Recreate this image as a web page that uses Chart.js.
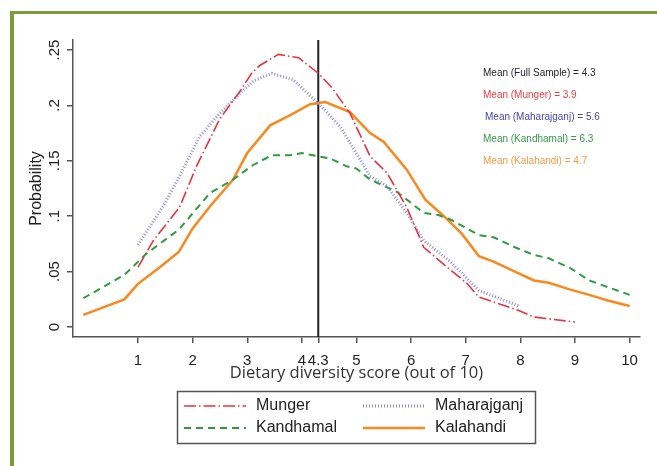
<!DOCTYPE html>
<html>
<head>
<meta charset="utf-8">
<script src="https://cdn.jsdelivr.net/npm/chart.js@4.4.0/dist/chart.umd.min.js"></script>
<style>
  html, body { margin: 0; padding: 0; background: #fff; }
  #wrap { position: relative; width: 657px; height: 466px; overflow: hidden; }
  #frame {
    position: absolute; left: 10px; top: 11px; width: 720px; height: 520px;
    border-left: 4px solid #7c9c3c; border-top: 3px solid #7c9c3c;
  }
  canvas { position: absolute; left: 0; top: 0; }
</style>
</head>
<body>
<div id="wrap">
  <div id="frame"></div>
  <canvas id="chart" width="657" height="466"></canvas>
</div>
<script>
// Dados (densidade por escore de diversidade alimentar)
const mungerX = [1.0, 1.28, 1.76, 2.07, 2.5, 2.87, 3.08, 3.23, 3.57, 3.94, 4.3, 4.55, 4.88, 5.25, 5.56, 5.92, 6.23, 6.66, 7.03, 7.24, 7.97, 8.25, 9.0];
const mungerY = [0.054, 0.078, 0.108, 0.145, 0.188, 0.213, 0.229, 0.236, 0.246, 0.243, 0.229, 0.216, 0.193, 0.154, 0.139, 0.108, 0.072, 0.054, 0.039, 0.027, 0.015, 0.009, 0.0045];

const maharajganjX = [1.0, 1.46, 1.76, 2.13, 2.5, 2.87, 3.11, 3.45, 3.84, 4.3, 4.7, 5.25, 5.56, 5.92, 6.23, 6.72, 7.24, 7.97];
const maharajganjY = [0.074, 0.109, 0.136, 0.172, 0.193, 0.211, 0.222, 0.229, 0.223, 0.202, 0.181, 0.136, 0.127, 0.103, 0.078, 0.059, 0.033, 0.019];

const kandhamalX = [0, 0.75, 1.15, 1.75, 2.32, 2.74, 3.1, 3.45, 3.78, 4.0, 4.3, 4.52, 4.82, 5.0, 5.25, 5.74, 6.23, 6.5, 6.72, 7.24, 7.51, 7.9, 8.25, 8.52, 8.92, 9.26, 9.6, 10];
const kandhamalY = [0.026, 0.047, 0.066, 0.088, 0.121, 0.133, 0.146, 0.155, 0.155, 0.157, 0.154, 0.152, 0.145, 0.143, 0.133, 0.122, 0.103, 0.101, 0.097, 0.083, 0.081, 0.072, 0.065, 0.062, 0.053, 0.042, 0.036, 0.029];

const kalahandiX = [0, 0.75, 1.0, 1.4, 1.75, 2.0, 2.32, 2.74, 3.0, 3.42, 3.78, 4.15, 4.43, 4.88, 5.25, 5.5, 5.92, 6.26, 6.6, 6.93, 7.24, 7.51, 7.9, 8.25, 8.52, 8.9, 9.26, 9.6, 10];
const kalahandiY = [0.011, 0.025, 0.039, 0.054, 0.068, 0.089, 0.109, 0.133, 0.157, 0.182, 0.191, 0.201, 0.203, 0.194, 0.175, 0.167, 0.142, 0.115, 0.100, 0.084, 0.064, 0.059, 0.050, 0.042, 0.040, 0.034, 0.029, 0.024, 0.019];

// Média da amostra completa (linha vertical)
const fullSampleMean = 4.3;

// Ticks e rótulos
const xTicks = [1, 2, 3, 4, 4.3, 5, 6, 7, 8, 9, 10];
const yTicks = [0, 0.05, 0.1, 0.15, 0.2, 0.25];
const yTickLabels = ['0', '.05', '.1', '.15', '.2', '.25'];
const xMin = -0.19, xMax = 10.19;
const yMin = -0.009, yMax = 0.259;

const seriesNames = ['Munger', 'Maharajganj', 'Kandhamal', 'Kalahandi'];
const meanLabels = [
    'Mean (Full Sample) = 4.3',
    'Mean (Munger) = 3.9',
    'Mean (Maharajganj) = 5.6',
    'Mean (Kandhamal) = 6.3',
    'Mean (Kalahandi) = 4.7'
];
const meanColors = ['#222233', '#ee3b45', '#4646a6', '#36994a', '#f59a45'];

function toPoints(xs, ys) {
    return xs.map((x, i) => ({ x: x, y: ys[i] }));
}

// Plugin: anotações das médias e legenda em caixa (2 colunas)
const extrasPlugin = {
    id: 'extras',
    afterDraw(chart) {
        const ctx = chart.ctx;
        ctx.save();

        // textos das médias
        ctx.font = '10px "Liberation Sans", Arial, sans-serif';
        ctx.textBaseline = 'middle';
        ctx.textAlign = 'left';
        meanLabels.forEach((t, i) => {
            ctx.fillStyle = meanColors[i];
            ctx.fillText(t, i === 2 ? 485 : 483, 73 + i * 22);
        });

        // caixa da legenda
        ctx.strokeStyle = '#555';
        ctx.lineWidth = 1.5;
        ctx.strokeRect(177.5, 391.5, 358, 52);

        ctx.font = '16px "Liberation Sans", Arial, sans-serif';
        const colX = [184, 363];
        const rowY = [406, 428];
        seriesNames.forEach((name, i) => {
            const ds = chart.data.datasets[i];
            const x = colX[i % 2];
            const y = rowY[Math.floor(i / 2)];
            ctx.beginPath();
            ctx.strokeStyle = ds.borderColor;
            ctx.lineWidth = ds.borderWidth;
            ctx.setLineDash(ds.borderDash || []);
            ctx.moveTo(x, y);
            ctx.lineTo(x + 62, y);
            ctx.stroke();
            ctx.setLineDash([]);
            ctx.fillStyle = '#222';
            ctx.fillText(name, x + 72, y);
        });
        ctx.restore();
    }
};

const ctx = document.getElementById('chart').getContext('2d');
new Chart(ctx, {
    type: 'line',
    data: {
        datasets: [
            {
                label: 'Munger',
                data: toPoints(mungerX, mungerY),
                borderColor: '#e8333f',
                borderWidth: 1.6,
                borderDash: [12, 3, 1.5, 3],
                pointRadius: 0,
                tension: 0
            },
            {
                label: 'Maharajganj',
                data: toPoints(maharajganjX, maharajganjY),
                borderColor: '#8a8adc',
                borderWidth: 3,
                borderDash: [1, 2],
                pointRadius: 0,
                tension: 0
            },
            {
                label: 'Kandhamal',
                data: toPoints(kandhamalX, kandhamalY),
                borderColor: '#2f9a3f',
                borderWidth: 2,
                borderDash: [7, 5],
                pointRadius: 0,
                tension: 0
            },
            {
                label: 'Kalahandi',
                data: toPoints(kalahandiX, kalahandiY),
                borderColor: '#f7891e',
                borderWidth: 2.5,
                pointRadius: 0,
                tension: 0
            },
            {
                label: 'Full sample mean',
                data: [{ x: fullSampleMean, y: yMin }, { x: fullSampleMean, y: yMax }],
                borderColor: '#222',
                borderWidth: 2,
                pointRadius: 0
            }
        ]
    },
    options: {
        responsive: false,
        animation: false,
        layout: { padding: { left: 0, top: 40, right: 17, bottom: 83 } },
        plugins: {
            legend: { display: false },
            tooltip: { enabled: false }
        },
        scales: {
            x: {
                type: 'linear',
                min: xMin,
                max: xMax,
                afterBuildTicks: scale => { scale.ticks = xTicks.map(v => ({ value: v })); },
                afterFit: scale => { scale.height = 46; },
                ticks: {
                    autoSkip: false,
                    maxRotation: 0,
                    padding: 9,
                    color: '#222',
                    font: { family: '"Liberation Sans", Arial, sans-serif', size: 15 },
                    callback: v => String(v)
                },
                grid: { drawOnChartArea: false, tickLength: 6, color: '#555', lineWidth: 1.5 },
                border: { display: true, color: '#555', width: 1.5 },
                title: {
                    display: true,
                    text: 'Dietary diversity score (out of 10)',
                    color: '#333',
                    padding: 0,
                    font: { family: '"Open Sans", sans-serif', size: 16.5 }
                }
            },
            y: {
                min: yMin,
                max: yMax,
                afterBuildTicks: scale => { scale.ticks = yTicks.map(v => ({ value: v })); },
                afterFit: scale => { scale.width = 73; },
                ticks: {
                    minRotation: 90,
                    maxRotation: 90,
                    crossAlign: 'center',
                    padding: 2,
                    color: '#222',
                    font: { family: '"Liberation Sans", Arial, sans-serif', size: 15 },
                    callback: function (v) {
                        const i = yTicks.indexOf(v);
                        return i >= 0 ? yTickLabels[i] : '';
                    }
                },
                grid: { drawOnChartArea: false, tickLength: 6, color: '#555', lineWidth: 1.5 },
                border: { display: true, color: '#555', width: 1.5 },
                title: {
                    display: true,
                    text: 'Probability',
                    color: '#222',
                    padding: { top: 27, bottom: 0 },
                    font: { family: '"Liberation Sans", Arial, sans-serif', size: 16 }
                }
            }
        }
    },
    plugins: [extrasPlugin]
});
</script>
</body>
</html>
